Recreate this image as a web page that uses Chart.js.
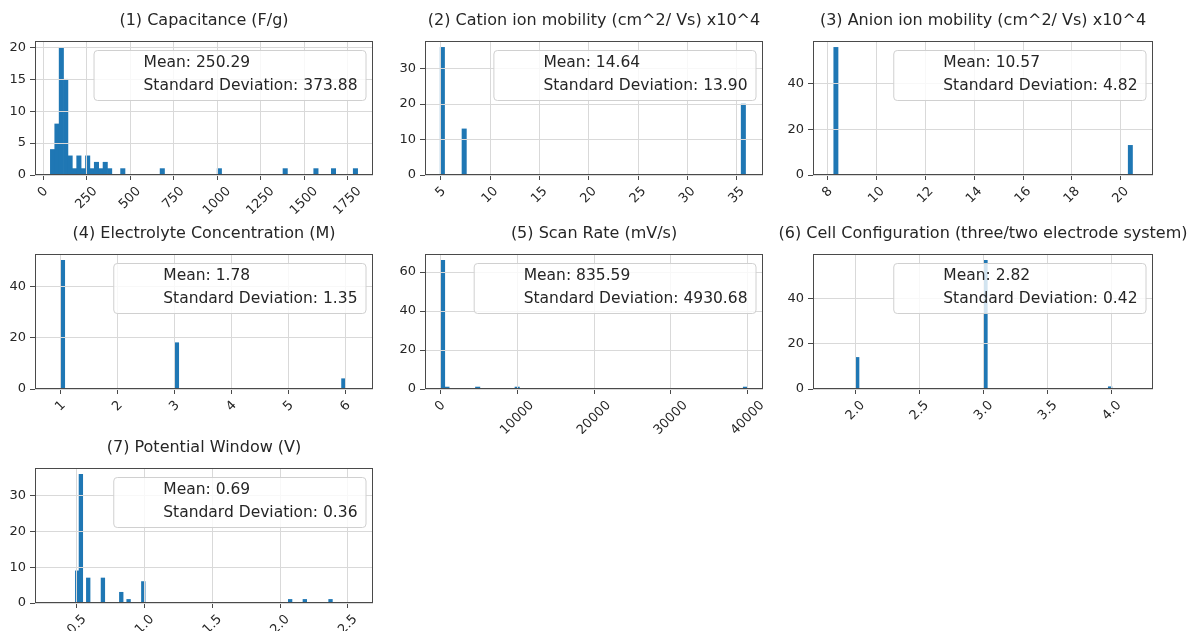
<!DOCTYPE html>
<html>
<head>
<meta charset="utf-8">
<script src="https://cdn.jsdelivr.net/npm/chart.js@4.4.1/dist/chart.umd.min.js"></script>
<style>
  html, body { margin: 0; padding: 0; background: #fff; }
  body { width: 1194px; height: 631px; position: relative; overflow: hidden; }
  canvas { position: absolute; }
</style>
</head>
<body>
<script>
// 70-bin histograms, only the non-empty bins are listed (bin index -> count)
const titles = [
  '(1) Capacitance (F/g)',
  '(2) Cation ion mobility (cm^2/ Vs) x10^4',
  '(3) Anion ion mobility (cm^2/ Vs) x10^4',
  '(4) Electrolyte Concentration (M)',
  '(5) Scan Rate (mV/s)',
  '(6) Cell Configuration (three/two electrode system)',
  '(7) Potential Window (V)'
];
const means = [250.29, 14.64, 10.57, 1.78, 835.59, 2.82, 0.69];
const stds  = [373.88, 13.90, 4.82, 1.35, 4930.68, 0.42, 0.36];

const capRange  = [42, 1808];
const capBins   = [0, 1, 2, 3, 4, 5, 6, 7, 8, 9, 10, 11, 12, 13, 16, 25, 38, 53, 60, 64, 69];
const capCounts = [4, 8, 20, 15, 3, 1, 3, 1, 3, 1, 2, 1, 2, 1, 1, 1, 1, 1, 1, 1, 1];
const capXTicks = ['0', '250', '500', '750', '1000', '1250', '1500', '1750'];
const capYTicks = [0, 5, 10, 15, 20];

const catRange  = [4.95, 35.9];
const catBins   = [0, 5, 69];
const catCounts = [36, 13, 20];
const catXTicks = ['5', '10', '15', '20', '25', '30', '35'];
const catYTicks = [0, 10, 20, 30];

const anRange  = [8.25, 20.48];
const anBins   = [0, 69];
const anCounts = [56, 13];
const anXTicks = ['8', '10', '12', '14', '16', '18', '20'];
const anYTicks = [0, 20, 40];

const concRange  = [1, 6];
const concBins   = [0, 28, 69];
const concCounts = [50, 18, 4];
const concXTicks = ['1', '2', '3', '4', '5', '6'];
const concYTicks = [0, 20, 40];

const scanRange  = [0, 40000];
const scanBins   = [0, 1, 8, 17, 69];
const scanCounts = [66, 1, 1, 1, 1];
const scanXTicks = ['0', '10000', '20000', '30000', '40000'];
const scanYTicks = [0, 20, 40, 60];

const cellRange  = [2, 4];
const cellBins   = [0, 35, 69];
const cellCounts = [14, 57, 1];
const cellXTicks = ['2.0', '2.5', '3.0', '3.5', '4.0'];
const cellYTicks = [0, 20, 40];

const potRange  = [0.488, 2.385];
const potBins   = [0, 1, 3, 7, 12, 14, 18, 58, 62, 69];
const potCounts = [9, 36, 7, 7, 3, 1, 6, 1, 1, 1];
const potXTicks = ['0.5', '1.0', '1.5', '2.0', '2.5'];
const potYTicks = [0, 10, 20, 30];

const NBINS = 70;

// layout: plot rectangle [left, top, right, bottom] and x limits
const panels = [
  { range: capRange,  bins: capBins,  counts: capCounts,  xTicks: capXTicks,  yTicks: capYTicks,  xLim: [-46.3, 1896.3], plot: [35, 41, 373, 175] },
  { range: catRange,  bins: catBins,  counts: catCounts,  xTicks: catXTicks,  yTicks: catYTicks,  xLim: [3.41, 37.67],   plot: [425, 41, 763, 175] },
  { range: anRange,   bins: anBins,   counts: anCounts,   xTicks: anXTicks,   yTicks: anYTicks,   xLim: [7.40, 21.32],   plot: [813, 41, 1153, 175] },
  { range: concRange, bins: concBins, counts: concCounts, xTicks: concXTicks, yTicks: concYTicks, xLim: [0.55, 6.48],    plot: [35, 254, 373, 389] },
  { range: scanRange, bins: scanBins, counts: scanCounts, xTicks: scanXTicks, yTicks: scanYTicks, xLim: [-2000, 42000],  plot: [425, 254, 763, 389] },
  { range: cellRange, bins: cellBins, counts: cellCounts, xTicks: cellXTicks, yTicks: cellYTicks, xLim: [1.67, 4.32],    plot: [813, 254, 1153, 389] },
  { range: potRange,  bins: potBins,  counts: potCounts,  xTicks: potXTicks,  yTicks: potYTicks,  xLim: [0.19, 2.685],   plot: [35, 468, 373, 603] }
];

const PAD_L = 45, PAD_T = 41, PAD_R = 41, PAD_B = 45;
const FONT = '"DejaVu Sans", "Liberation Sans", sans-serif';
const TEXT = '#262626';
const TICK_SIZE = 13;

function histPoints(range, bins, counts) {
  const w = (range[1] - range[0]) / NBINS;
  const pts = [];
  for (let i = 0; i < NBINS; i++) pts.push({ x: range[0] + (i + 0.5) * w, y: 0 });
  bins.forEach((b, k) => { pts[b].y = counts[k]; });
  return pts;
}

function roundRect(ctx, x, y, w, h, r) {
  ctx.beginPath();
  ctx.moveTo(x + r, y);
  ctx.lineTo(x + w - r, y);
  ctx.quadraticCurveTo(x + w, y, x + w, y + r);
  ctx.lineTo(x + w, y + h - r);
  ctx.quadraticCurveTo(x + w, y + h, x + w - r, y + h);
  ctx.lineTo(x + r, y + h);
  ctx.quadraticCurveTo(x, y + h, x, y + h - r);
  ctx.lineTo(x, y + r);
  ctx.quadraticCurveTo(x, y, x + r, y);
  ctx.closePath();
}

// spines, title, rotated x labels and the mean/std box
const panelPlugin = {
  id: 'panel',
  afterDraw(chart, args, o) {
    const { ctx, chartArea: a, scales: { x } } = chart;
    ctx.save();

    ctx.strokeStyle = '#4a4a4a';
    ctx.lineWidth = 1;
    ctx.strokeRect(a.left + 0.5, a.top + 0.5, a.width - 1, a.height - 1);

    ctx.fillStyle = TEXT;
    ctx.textAlign = 'center';
    ctx.textBaseline = 'middle';
    ctx.font = '16px ' + FONT;
    ctx.fillText(o.title, (a.left + a.right) / 2, a.top - 20.5);

    ctx.font = TICK_SIZE + 'px ' + FONT;
    o.xTicks.forEach(lab => {
      const px = x.getPixelForValue(parseFloat(lab));
      const w = ctx.measureText(lab).width;
      const half = (w + TICK_SIZE * 1.17) * Math.SQRT1_2 / 2;
      ctx.save();
      ctx.translate(px, a.bottom + 9 + half);
      ctx.rotate(-Math.PI / 4);
      ctx.fillText(lab, 0, 0);
      ctx.restore();
    });

    ctx.font = '15.5px ' + FONT;
    const l1 = 'Mean: ' + o.mean.toFixed(2);
    const l2 = 'Standard Deviation: ' + o.std.toFixed(2);
    const tw = Math.max(ctx.measureText(l1).width, ctx.measureText(l2).width);
    const bw = tw + 58, bh = 50;
    const bx = a.right - 7.5 - bw, by = a.top + 9;
    roundRect(ctx, bx + 0.5, by + 0.5, bw, bh, 3.5);
    ctx.fillStyle = 'rgba(255,255,255,0.8)';
    ctx.fill();
    ctx.strokeStyle = '#d0d0d0';
    ctx.stroke();
    ctx.fillStyle = TEXT;
    ctx.textAlign = 'left';
    ctx.fillText(l1, bx + 50, by + 12.5);
    ctx.fillText(l2, bx + 50, by + 36);

    ctx.restore();
  }
};

panels.forEach((p, i) => {
  const [l, t, r, b] = p.plot;
  const cv = document.createElement('canvas');
  cv.width = (r - l) + PAD_L + PAD_R;
  cv.height = (b - t) + PAD_T + PAD_B;
  cv.style.left = (l - PAD_L) + 'px';
  cv.style.top = (t - PAD_T) + 'px';
  document.body.appendChild(cv);

  const yMax = Math.max(...p.counts) * 1.05;

  new Chart(cv, {
    type: 'bar',
    data: {
      datasets: [{
        data: histPoints(p.range, p.bins, p.counts),
        backgroundColor: '#1f77b4',
        borderWidth: 0,
        barPercentage: 1,
        categoryPercentage: 1
      }]
    },
    options: {
      responsive: false,
      animation: false,
      events: [],
      layout: { padding: { top: PAD_T, right: PAD_R, left: 0, bottom: 0 } },
      plugins: {
        legend: { display: false },
        tooltip: { enabled: false },
        panel: { title: titles[i], mean: means[i], std: stds[i], xTicks: p.xTicks }
      },
      scales: {
        x: {
          type: 'linear',
          offset: false,
          min: p.xLim[0],
          max: p.xLim[1],
          afterBuildTicks: s => { s.ticks = p.xTicks.map(v => ({ value: parseFloat(v) })); },
          afterFit: s => { s.height = PAD_B; },
          ticks: { display: false, autoSkip: false },
          border: { display: false },
          grid: { offset: false, color: '#d9d9d9', lineWidth: 1, tickLength: 5, tickColor: '#4a4a4a', z: 1 }
        },
        y: {
          min: 0,
          max: yMax,
          afterBuildTicks: s => { s.ticks = p.yTicks.map(v => ({ value: v })); },
          afterFit: s => { s.width = PAD_L; },
          ticks: { autoSkip: false, padding: 4, color: TEXT, font: { family: FONT, size: TICK_SIZE } },
          border: { display: false },
          grid: { color: '#d9d9d9', lineWidth: 1, tickLength: 5, tickColor: '#4a4a4a', z: 1 }
        }
      }
    },
    plugins: [panelPlugin]
  });
});
</script>
</body>
</html>
